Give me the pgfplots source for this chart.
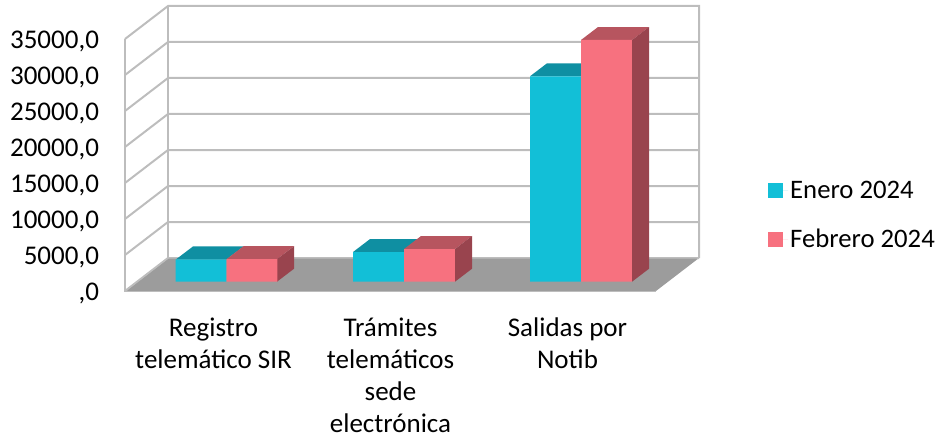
\documentclass[border=0pt]{standalone}
\usepackage{fontspec}
\setmainfont{Carlito}
\usepackage{pgfplots}
\pgfplotsset{compat=1.18}

\definecolor{ene}{HTML}{12BFD7}
\definecolor{enetop}{HTML}{0F8FA2}
\definecolor{feb}{HTML}{F7717F}
\definecolor{febtop}{HTML}{B7555F}
\definecolor{febside}{HTML}{99444E}
\definecolor{wall}{HTML}{BDBDBD}
\definecolor{floorc}{HTML}{9C9C9C}

% x is in image pixels, depth of the box is 43px across and 33px up (4583 units)
\begin{document}
\begin{tikzpicture}[x=1pt,y=1pt]
\path[use as bounding box] (0,0) rectangle (940,439);

% walls, floor and the tick labels, on the front plane of the box
\begin{axis}[
    at={(125pt,148pt)}, anchor=south west,
    scale only axis, width=574pt, height=285pt,
    xmin=125, xmax=699, ymin=0, ymax=39583,
    clip=false,
    axis line style={draw=none},
    major tick length=0pt,
    ytick={0,5000,10000,15000,20000,25000,30000,35000},
    yticklabels={{,0},{5000,0},{10000,0},{15000,0},{20000,0},{25000,0},{30000,0},{35000,0}},
    yticklabel style={anchor=east,xshift=-22.5pt,yshift=-2pt,font=\fontsize{27}{30}\selectfont},
    xtick={213.5,390.5,567.5},
    xticklabels={{Registro\\telemático SIR},{Trámites\\telemáticos\\sede\\electrónica},{Salidas por\\Notib}},
    xticklabel style={align=center,anchor=north,yshift=-23pt,font=\fontsize{27}{32}\selectfont},
]
\addplot[fill=floorc,draw=none] coordinates {(125,0)(656,0)(699,4583)(168,4583)} --cycle;
\addplot[wall,line width=2pt] coordinates {(125,35000)(125,0)(656,0)};
\addplot[wall,line width=2pt] coordinates {(125,35000)(168,39583)(699,39583)(699,4583)};
\addplot[wall,line width=2pt] coordinates {(168,39583)(168,4583)};
\addplot[wall,line width=2pt] coordinates {(125,0)(168,4583)(699,4583)};
\addplot[wall,line width=2pt] coordinates {(125,5000)(168,9583)(699,9583)};
\addplot[wall,line width=2pt] coordinates {(125,10000)(168,14583)(699,14583)};
\addplot[wall,line width=2pt] coordinates {(125,15000)(168,19583)(699,19583)};
\addplot[wall,line width=2pt] coordinates {(125,20000)(168,24583)(699,24583)};
\addplot[wall,line width=2pt] coordinates {(125,25000)(168,29583)(699,29583)};
\addplot[wall,line width=2pt] coordinates {(125,30000)(168,34583)(699,34583)};
\addplot[fill=floorc,draw=none] coordinates {(127,1)(655,1)(697,4500)(169,4500)} --cycle;
\end{axis}

% bars: value 0 sits on the bars' base line, 9.3px above the front edge
\begin{axis}[
    at={(125pt,157.3pt)}, anchor=south west,
    scale only axis, width=574pt, height=275.7pt,
    xmin=125, xmax=699, ymin=0, ymax=38292,
    hide axis, clip=false,
    legend style={at={(axis cs:768,14250)},anchor=north west,draw=none,fill=none,
      font=\fontsize{26.7}{30}\selectfont,row sep=25pt,inner sep=0pt},
    legend cell align=left,
    legend image code/.code={\path (0pt,0pt) -- (20pt,0pt);\fill[#1] (0pt,-7.5pt) rectangle (15pt,7.5pt);},
]
% tops and sides, x and value of each corner
\addplot[fill=enetop,draw=none,forget plot] coordinates {(176,3100)(226.5,3100)(243.5,4900)(193,4900)} --cycle;
\addplot[fill=febtop,draw=none,forget plot] coordinates {(226.5,3130)(277,3130)(294,4930)(243.5,4930)} --cycle;
\addplot[fill=febside,draw=none,forget plot] coordinates {(277,0)(294,1800)(294,4930)(277,3130)} --cycle;

\addplot[fill=enetop,draw=none,forget plot] coordinates {(353,4120)(404,4120)(421,5920)(370,5920)} --cycle;
\addplot[fill=febtop,draw=none,forget plot] coordinates {(404,4540)(455,4540)(472,6340)(421,6340)} --cycle;
\addplot[fill=febside,draw=none,forget plot] coordinates {(455,0)(472,1800)(472,6340)(455,4540)} --cycle;

\addplot[fill=enetop,draw=none,forget plot] coordinates {(530,28530)(581,28530)(598,30330)(547,30330)} --cycle;
\addplot[fill=febtop,draw=none,forget plot] coordinates {(581,33570)(632,33570)(649,35370)(598,35370)} --cycle;
\addplot[fill=febside,draw=none,forget plot] coordinates {(632,0)(649,1800)(649,35370)(632,33570)} --cycle;

% front faces
\addplot[ybar,bar shift=0pt,bar width=50.7pt,fill=ene,draw=none] coordinates {(201,3100)(378.5,4120)(555.5,28530)};
\addlegendentry{Enero 2024}
\addplot[ybar,bar shift=0pt,bar width=50.7pt,fill=feb,draw=none] coordinates {(252,3130)(429.5,4540)(606.5,33570)};
\addlegendentry{Febrero 2024}
\end{axis}
\end{tikzpicture}
\end{document}
